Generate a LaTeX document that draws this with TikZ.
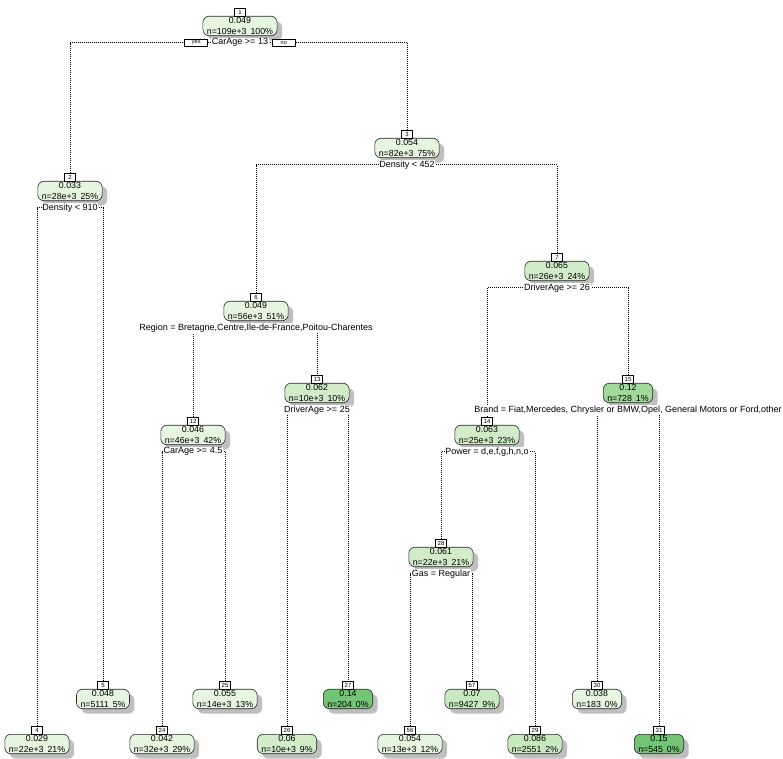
\documentclass[tikz,border=0pt]{standalone}
\usepackage{fontspec}
\setmainfont{Liberation Sans}
\usetikzlibrary{shadows,backgrounds}
\definecolor{ca}{HTML}{E5F5E0}
\definecolor{cb}{HTML}{D2ECCA}
\definecolor{cc}{HTML}{C7E9C0}
\definecolor{cd}{HTML}{A1D99B}
\definecolor{ce}{HTML}{74C476}
\newcommand\tnode[6]{%
  \node[tbox, fill=#4] (n#1) at (#2,#3) {#5\\#6};
  \node[tag, anchor=south] (t#1) at ([yshift=-0.4pt]n#1.north) {#1};
}
\newcommand\tsplit[2]{%
  \node[splitlab, anchor=north] (s#1) at ([yshift=-1.5pt]n#1.south) {#2};
}
\begin{document}
\begin{tikzpicture}[x=1pt,y=-1pt,
  tbox/.style={draw=black!85, line width=0.6pt, rounded corners=6pt, align=center,
    inner xsep=4pt, inner ysep=1.5pt, font=\fontsize{8.8}{10.2}\selectfont,
    drop shadow={shadow xshift=5pt, shadow yshift=-5pt, fill=black!25, opacity=1}},
  tag/.style={draw, fill=white, font=\fontsize{6}{6.5}\selectfont, inner sep=0.8pt,
    minimum width=11pt, minimum height=8pt, line width=0.5pt},
  splitlab/.style={fill=white, inner sep=0.8pt, font=\fontsize{9}{10}\selectfont},
  yn/.style={draw, fill=white, font=\fontsize{5.5}{6}\selectfont, minimum width=23pt,
    minimum height=7.5pt, inner sep=0pt, line width=0.5pt},
  edge/.style={line width=0.6pt, dash pattern=on 0.6pt off 1.4pt}]
\useasboundingbox (0,0) rectangle (783,758);
\def\sp{\hspace{0.45em}}
\tnode{1}{240}{26}{ca}{0.049}{n=109e+3\sp 100\%}
\tnode{2}{70}{191}{ca}{0.033}{n=28e+3\sp 25\%}
\tnode{3}{407}{148}{ca}{0.054}{n=82e+3\sp 75\%}
\tnode{4}{37}{744}{ca}{0.029}{n=22e+3\sp 21\%}
\tnode{5}{103}{699}{ca}{0.048}{n=5111\sp 5\%}
\tnode{6}{256}{311}{ca}{0.049}{n=56e+3\sp 51\%}
\tnode{7}{557}{271}{cb}{0.065}{n=26e+3\sp 24\%}
\tnode{12}{193}{435}{ca}{0.046}{n=46e+3\sp 42\%}
\tnode{13}{317}{393}{cb}{0.062}{n=10e+3\sp 10\%}
\tnode{14}{487}{435}{cb}{0.063}{n=25e+3\sp 23\%}
\tnode{15}{628}{393}{cd}{0.12}{n=728\sp 1\%}
\tnode{24}{162}{744}{ca}{0.042}{n=32e+3\sp 29\%}
\tnode{25}{225}{699}{ca}{0.055}{n=14e+3\sp 13\%}
\tnode{26}{287}{744}{cb}{0.06}{n=10e+3\sp 9\%}
\tnode{27}{348}{699}{ce}{0.14}{n=204\sp 0\%}
\tnode{28}{441}{557}{cb}{0.061}{n=22e+3\sp 21\%}
\tnode{29}{535}{744}{cc}{0.086}{n=2551\sp 2\%}
\tnode{30}{597}{699}{ca}{0.038}{n=183\sp 0\%}
\tnode{31}{659}{744}{ce}{0.15}{n=545\sp 0\%}
\tnode{56}{410}{744}{ca}{0.054}{n=13e+3\sp 12\%}
\tnode{57}{472}{699}{cc}{0.07}{n=9427\sp 9\%}
\tsplit{1}{CarAge >= 13}
\tsplit{2}{Density < 910}
\tsplit{3}{Density < 452}
\tsplit{6}{Region = Bretagne,Centre,Ile-de-France,Poitou-Charentes}
\tsplit{7}{DriverAge >= 26}
\tsplit{12}{CarAge >= 4.5}
\tsplit{13}{DriverAge >= 25}
\tsplit{14}{Power = d,e,f,g,h,n,o}
\tsplit{15}{Brand = Fiat,Mercedes, Chrysler or BMW,Opel, General Motors or Ford,other}
\tsplit{28}{Gas = Regular}
\node[yn, anchor=east] (yes) at ([xshift=-3pt]s1.west) {yes};
\node[yn, anchor=west] (no) at ([xshift=3pt]s1.east) {no};
\begin{scope}[on background layer]
\draw[edge] (t2.north) |- (s1.center) -| (t3.north);
\draw[edge] (t4.north) |- (s2.center) -| (t5.north);
\draw[edge] (t6.north) |- (s3.center) -| (t7.north);
\draw[edge] (t12.north) |- (s6.center) -| (t13.north);
\draw[edge] (t14.north) |- (s7.center) -| (t15.north);
\draw[edge] (t24.north) |- (s12.center) -| (t25.north);
\draw[edge] (t26.north) |- (s13.center) -| (t27.north);
\draw[edge] (t28.north) |- (s14.center) -| (t29.north);
\draw[edge] (t30.north) |- (s15.center) -| (t31.north);
\draw[edge] (t56.north) |- (s28.center) -| (t57.north);
\end{scope}
\end{tikzpicture}
\end{document}
